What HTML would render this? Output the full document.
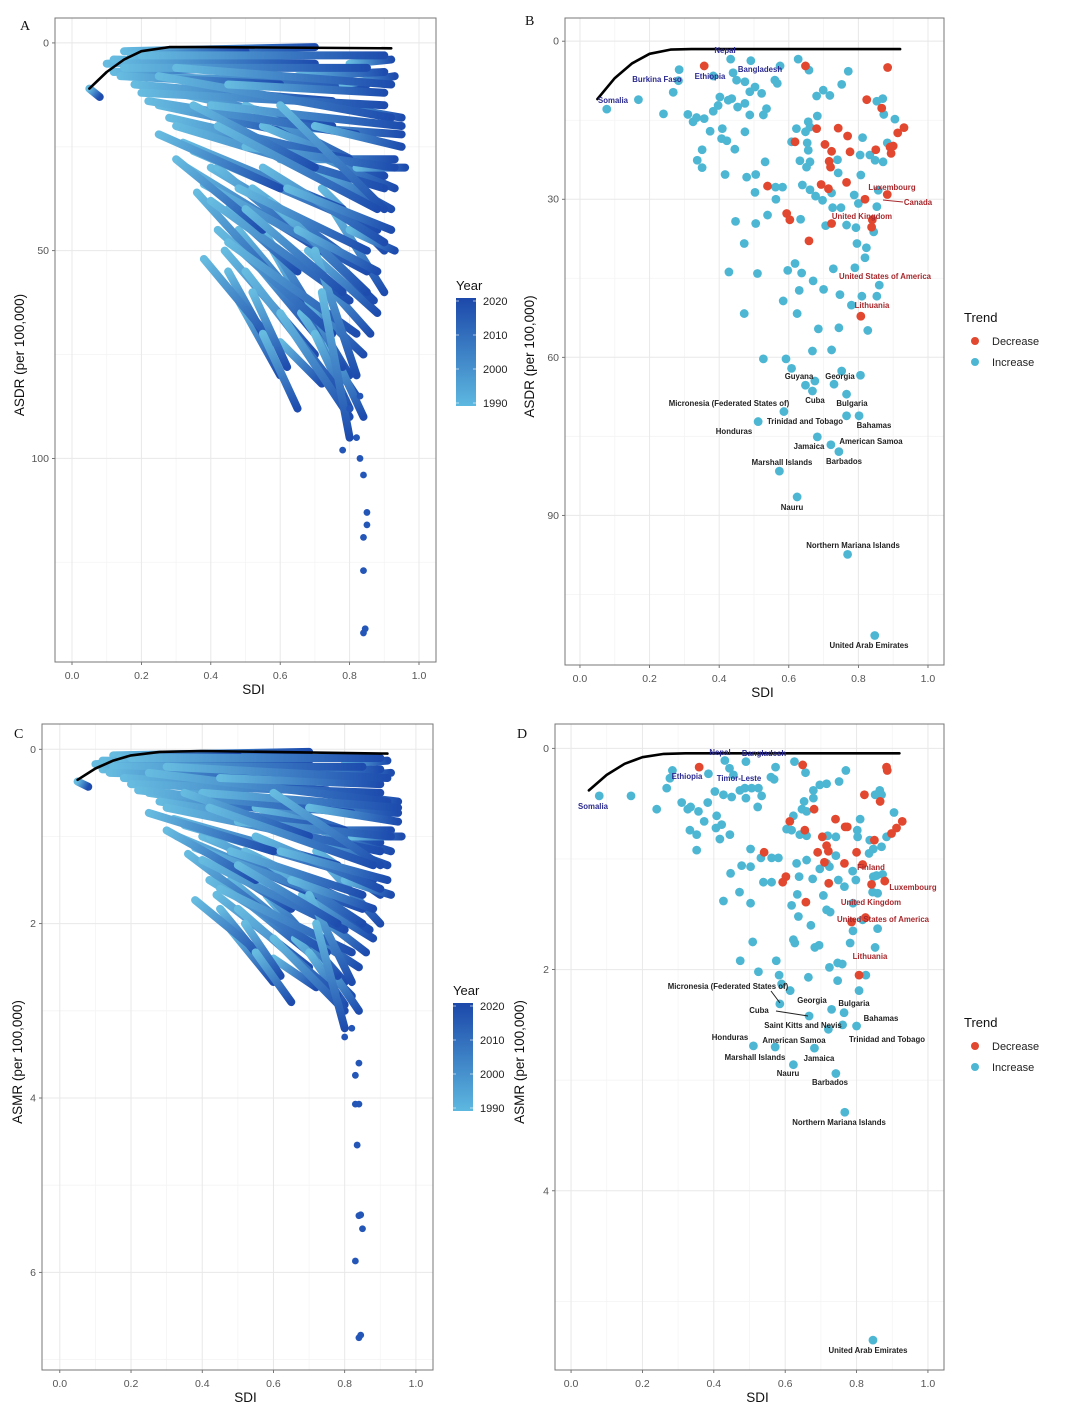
<!DOCTYPE html>
<html><head><meta charset="utf-8">
<style>
html,body{margin:0;padding:0;background:#fff;}
svg{display:block;font-family:"Liberation Sans",Arial,sans-serif;}
</style></head>
<body>
<svg id="fig" width="1080" height="1414" viewBox="0 0 1080 1414" xmlns="http://www.w3.org/2000/svg"><defs id="defs"></defs></svg>
<script>
// ===== Panel A data: SDI/ASDR trajectories 1990->2021 [sdi0, v0, sdi1, v1]
const trajSdiStartA=[0.05,0.1,0.12,0.15,0.14,0.18,0.2,0.22,0.17,0.25,0.28,0.3,0.32,0.35,0.33,0.38,0.36,0.4,0.42,0.44,0.45,0.38,0.5,0.52,0.55,0.6,0.4,0.45,0.5,0.55,0.6,0.65,0.7,0.3,0.25,0.3,0.48,0.6,0.7,0.72,0.35,0.42,0.5,0.2,0.62];
const trajValStartA=[11,5,4,6,8,10,12,14,3,8,18,20,24,26,30,34,36,38,45,50,48,52,55,60,70,65,15,10,25,30,40,45,20,6,22,28,35,15,50,60,15,20,40,3,35];
const trajSdiEndA=[0.08,0.55,0.7,0.85,0.6,0.75,0.9,0.82,0.5,0.92,0.8,0.9,0.78,0.88,0.72,0.85,0.62,0.8,0.75,0.7,0.82,0.58,0.78,0.62,0.65,0.8,0.95,0.9,0.93,0.9,0.85,0.88,0.95,0.92,0.6,0.55,0.85,0.9,0.82,0.8,0.7,0.88,0.78,0.9,0.92];
const trajValEndA=[13,3,5,6,10,14,15,22,2,18,28,35,40,45,50,55,60,62,70,75,70,72,85,78,88,90,20,12,30,48,60,55,25,10,35,45,50,40,80,95,30,40,60,3,45];
const extraSdiStartA=[0.6,0.65,0.7,0.72,0.75,0.68,0.7,0.65,0.62,0.58,0.55,0.5,0.48,0.45,0.4,0.35,0.3,0.25,0.2,0.15,0.12,0.5,0.55,0.6,0.75,0.78,0.8,0.65,0.42,0.52,0.57,0.66,0.7,0.74,0.68,0.6,0.48,0.45,0.8,0.82];
const extraValStartA=[20,25,30,35,40,50,55,60,55,50,45,50,45,40,30,20,12,15,8,2,7,15,20,28,15,10,5,8,30,35,38,65,70,72,62,72,62,55,45,30];
const extraSdiEndA=[0.95,0.93,0.92,0.9,0.9,0.88,0.86,0.84,0.8,0.75,0.72,0.7,0.68,0.65,0.7,0.6,0.75,0.65,0.85,0.7,0.5,0.85,0.9,0.93,0.95,0.93,0.92,0.9,0.68,0.8,0.87,0.82,0.8,0.84,0.78,0.72,0.6,0.55,0.93,0.96];
const extraValEndA=[22,35,40,50,60,65,70,75,80,75,68,70,65,55,45,25,20,22,10,1,6,30,32,28,18,8,4,7,48,52,62,85,88,90,78,82,80,70,50,30];
const tailSdiA=[0.83,0.8,0.82,0.78,0.83,0.84,0.85,0.85,0.84,0.84,0.84,0.845];
const tailValA=[85,88,95,98,100,104,113,116,119,127,142,141];
const frontierSdiA=[0.05,0.1,0.15,0.2,0.28,0.4,0.92];
const frontierValA=[11,7,4,2,1,1,1.3];
// ===== Panel C data: SDI/ASMR trajectories
const trajSdiStartC=[0.05,0.1,0.12,0.15,0.14,0.18,0.2,0.22,0.17,0.25,0.28,0.3,0.32,0.35,0.33,0.38,0.36,0.4,0.42,0.44,0.45,0.38,0.5,0.52,0.55,0.6,0.4,0.45,0.5,0.55,0.6,0.65,0.7,0.3,0.25,0.3,0.48,0.6,0.7,0.72,0.35,0.42,0.5,0.2,0.62];
const trajValStartC=[0.37,0.17,0.13,0.2,0.27,0.33,0.4,0.47,0.1,0.27,0.6,0.67,0.8,0.87,1.0,1.13,1.2,1.27,1.5,1.67,1.6,1.73,1.83,2.0,2.33,2.17,0.5,0.33,0.83,1.0,1.33,1.5,0.67,0.2,0.73,0.93,1.17,0.5,1.67,2.0,0.5,0.67,1.33,0.1,1.17];
const trajSdiEndC=[0.08,0.55,0.7,0.85,0.6,0.75,0.9,0.82,0.5,0.92,0.8,0.9,0.78,0.88,0.72,0.85,0.62,0.8,0.75,0.7,0.82,0.58,0.78,0.62,0.65,0.8,0.95,0.9,0.93,0.9,0.85,0.88,0.95,0.92,0.6,0.55,0.85,0.9,0.82,0.8,0.7,0.88,0.78,0.9,0.92];
const trajValEndC=[0.43,0.1,0.17,0.2,0.33,0.47,0.5,0.73,0.07,0.6,0.93,1.17,1.33,1.5,1.67,1.83,2.0,2.07,2.33,2.5,2.33,2.4,2.83,2.6,2.9,3.0,0.67,0.4,1.0,1.6,2.0,1.83,0.83,0.33,1.17,1.5,1.67,1.33,2.67,3.2,1.0,1.33,2.0,0.1,1.5];
const extraSdiStartC=[0.6,0.65,0.7,0.72,0.75,0.68,0.7,0.65,0.62,0.58,0.55,0.5,0.48,0.45,0.4,0.35,0.3,0.25,0.2,0.15,0.12,0.5,0.55,0.6,0.75,0.78,0.8,0.65,0.42,0.52,0.57,0.66,0.7,0.74,0.68,0.6,0.48,0.45,0.8,0.82];
const extraValStartC=[0.67,0.83,1.0,1.17,1.33,1.67,1.83,2.0,1.83,1.67,1.5,1.67,1.5,1.33,1.0,0.67,0.4,0.5,0.27,0.07,0.23,0.5,0.67,0.93,0.5,0.33,0.17,0.27,1.0,1.17,1.27,2.17,2.33,2.4,2.07,2.4,2.07,1.83,1.5,1.0];
const extraSdiEndC=[0.95,0.93,0.92,0.9,0.9,0.88,0.86,0.84,0.8,0.75,0.72,0.7,0.68,0.65,0.7,0.6,0.75,0.65,0.85,0.7,0.5,0.85,0.9,0.93,0.95,0.93,0.92,0.9,0.68,0.8,0.87,0.82,0.8,0.84,0.78,0.72,0.6,0.55,0.93,0.96];
const extraValEndC=[0.73,1.17,1.33,1.67,2.0,2.17,2.33,2.5,2.67,2.5,2.27,2.33,2.17,1.83,1.5,0.83,0.67,0.73,0.33,0.03,0.2,1.0,1.07,0.93,0.6,0.27,0.13,0.23,1.6,1.73,2.07,2.83,2.93,3.0,2.6,2.73,2.67,2.33,1.67,1.0];
const tailSdiC=[0.8,0.82,0.83,0.84,0.83,0.84,0.835,0.845,0.84,0.85,0.83,0.84,0.845];
const tailValC=[3.3,3.2,3.74,3.6,4.07,4.07,4.54,5.34,5.35,5.5,5.87,6.75,6.72];
const frontierSdiC=[0.05,0.1,0.15,0.2,0.28,0.4,0.92];
const frontierValC=[0.35,0.22,0.13,0.07,0.03,0.02,0.05];
// ===== Panel B data: 2021 ASDR, increase (teal) & decrease (red)
const incSdiB=[0.077,0.168,0.285,0.283,0.268,0.24,0.433,0.491,0.44,0.45,0.474,0.383,0.575,0.627,0.658,0.56,0.567,0.503,0.488,0.522,0.402,0.426,0.436,0.453,0.474,0.383,0.397,0.488,0.527,0.536,0.31,0.325,0.335,0.357,0.374,0.409,0.407,0.422,0.474,0.351,0.337,0.351,0.445,0.417,0.479,0.505,0.532,0.503,0.563,0.562,0.582,0.539,0.447,0.505,0.472,0.634,0.428,0.51,0.597,0.618,0.637,0.67,0.63,0.70,0.728,0.79,0.86,0.853,0.81,0.747,0.584,0.472,0.624,0.78,0.685,0.744,0.827,0.771,0.752,0.68,0.699,0.718,0.682,0.656,0.661,0.622,0.648,0.653,0.656,0.608,0.632,0.661,0.651,0.74,0.742,0.807,0.812,0.805,0.833,0.848,0.871,0.853,0.87,0.873,0.905,0.883,0.639,0.661,0.677,0.697,0.723,0.726,0.75,0.766,0.706,0.793,0.788,0.8,0.857,0.853,0.844,0.796,0.823,0.819,0.527,0.592,0.608,0.668,0.723,0.752,0.806,0.675,0.648,0.668,0.73,0.766,0.766,0.802,0.586,0.512,0.682,0.721,0.744,0.573,0.624,0.769,0.847];
const incValB=[12.9,11.1,5.4,7.5,9.7,13.8,3.4,3.7,6,7.4,7.7,6.6,4.7,3.4,5.5,7.4,8,8.7,9.6,9.9,10.6,11.2,10.9,12.5,11.8,13.3,12.2,14,14,12.8,13.9,15.3,14.5,14.7,17.1,16.6,18.5,18.9,17.2,20.6,22.6,24,20.5,25.3,25.8,25.3,22.9,28.7,30,27.7,27.7,33,34.2,34.6,38.4,33.8,43.8,44.1,43.5,42.2,44,45.5,47.3,47.1,43.2,43,46.3,48.4,48.4,48.1,49.3,51.7,51.7,50.1,54.6,54.4,54.9,5.7,8.2,10.4,9.3,10.3,14.2,15.3,16.3,16.6,17.2,19.3,20.7,19.1,22.7,22.9,23.9,22.5,25,25.4,18.3,21.6,21.6,22.6,22.9,11.4,10.9,13.9,14.8,19.3,27.3,28.2,29.4,30.2,28.8,31.6,31.6,34.9,35,35.4,29.2,30.8,28.3,31.4,36.2,38.4,39.2,41.1,60.3,60.3,62.1,58.8,58.6,62.6,63.4,64.5,65.3,66.4,65.1,67,71.1,71.1,70.3,72.2,75.1,76.6,77.9,81.6,86.5,97.4,112.8];
const decSdiB=[0.357,0.648,0.884,0.824,0.867,0.931,0.913,0.68,0.742,0.769,0.704,0.723,0.776,0.716,0.72,0.85,0.891,0.9,0.894,0.766,0.693,0.714,0.539,0.594,0.603,0.819,0.883,0.658,0.723,0.84,0.838,0.807,0.618];
const decValB=[4.7,4.7,5,11.1,12.7,16.4,17.4,16.6,16.5,18,19.6,20.9,21,22.8,23.9,20.6,20.1,19.9,21.3,26.8,27.2,28,27.5,32.7,33.9,30,29.1,37.9,34.6,33.9,35.3,52.2,19.1];
const frontierSdiB=[0.05,0.1,0.15,0.2,0.26,0.32,0.92];
const frontierValB=[11,7,4.2,2.4,1.6,1.5,1.5];
// ===== Panel D data: 2021 ASMR
const incSdiD=[0.079,0.168,0.24,0.284,0.277,0.268,0.31,0.327,0.335,0.357,0.352,0.333,0.352,0.373,0.408,0.406,0.422,0.417,0.445,0.383,0.403,0.427,0.45,0.473,0.487,0.506,0.525,0.49,0.523,0.534,0.385,0.431,0.444,0.49,0.455,0.56,0.569,0.573,0.626,0.657,0.679,0.697,0.716,0.751,0.77,0.653,0.647,0.66,0.679,0.623,0.618,0.641,0.66,0.604,0.719,0.742,0.803,0.81,0.852,0.865,0.87,0.905,0.802,0.837,0.847,0.87,0.884,0.835,0.503,0.532,0.562,0.581,0.478,0.503,0.447,0.539,0.562,0.632,0.66,0.697,0.716,0.724,0.742,0.639,0.677,0.707,0.749,0.766,0.798,0.789,0.847,0.856,0.873,0.845,0.859,0.472,0.427,0.503,0.634,0.618,0.637,0.672,0.716,0.726,0.79,0.79,0.817,0.859,0.852,0.782,0.695,0.683,0.623,0.627,0.509,0.474,0.575,0.724,0.747,0.76,0.826,0.807,0.525,0.583,0.665,0.747,0.59,0.614,0.585,0.667,0.73,0.765,0.761,0.721,0.8,0.511,0.572,0.682,0.623,0.742,0.767,0.846];
const incValD=[0.43,0.43,0.55,0.2,0.27,0.36,0.49,0.55,0.53,0.57,0.92,0.74,0.78,0.66,0.61,0.72,0.69,0.82,0.78,0.49,0.39,0.42,0.44,0.38,0.36,0.36,0.36,0.45,0.53,0.43,0.23,0.11,0.18,0.12,0.24,0.26,0.28,0.17,0.12,0.22,0.38,0.33,0.32,0.3,0.2,0.48,0.55,0.57,0.45,0.61,0.74,0.78,0.79,0.73,0.79,0.8,0.8,0.64,0.42,0.38,0.42,0.58,0.74,0.83,0.91,0.89,0.8,0.95,0.91,0.99,0.99,0.99,1.06,1.07,1.13,1.21,1.21,1.04,1.01,1.09,1.04,1.07,0.97,1.16,1.18,1.33,1.19,1.25,1.19,1.11,1.16,1.15,1.14,1.3,1.31,1.3,1.38,1.4,1.32,1.42,1.52,1.6,1.46,1.48,1.4,1.65,1.55,1.63,1.8,1.76,1.78,1.8,1.73,1.76,1.75,1.92,1.92,1.98,1.94,1.95,2.05,2.19,2.02,2.05,2.07,2.1,2.13,2.19,2.31,2.42,2.36,2.39,2.5,2.54,2.51,2.69,2.7,2.71,2.86,2.94,3.29,5.35];
const decSdiD=[0.359,0.649,0.884,0.886,0.822,0.866,0.928,0.912,0.898,0.85,0.681,0.613,0.655,0.741,0.768,0.774,0.704,0.716,0.721,0.691,0.71,0.766,0.8,0.817,0.541,0.602,0.593,0.658,0.722,0.842,0.879,0.786,0.825,0.807];
const decValD=[0.17,0.15,0.17,0.2,0.42,0.48,0.66,0.72,0.77,0.83,0.55,0.66,0.74,0.64,0.71,0.71,0.8,0.88,0.93,0.94,1.03,1.04,0.94,1.05,0.94,1.16,1.21,1.39,1.22,1.23,1.2,1.57,1.53,2.05];
const frontierSdiD=[0.05,0.1,0.15,0.2,0.26,0.32,0.92];
const frontierValD=[0.38,0.24,0.14,0.08,0.05,0.045,0.045];

const NS="http://www.w3.org/2000/svg";
const svg=document.getElementById('fig');
const defs=document.getElementById('defs');
function mk(tag,attrs,parent){const e=document.createElementNS(NS,tag);for(const k in attrs)e.setAttribute(k,attrs[k]);(parent||svg).appendChild(e);return e;}
function txt(s,attrs,parent){const e=mk('text',attrs,parent);e.textContent=s;return e;}

const panels={
 A:{x0:55,x1:436,y0:18,y1:662,sx0:-0.049,sx1:1.049,vy0:-6,vy1:149,yt:[0,50,100],ym:[25,75,125],ytl:['0','50','100']},
 B:{x0:565,x1:944,y0:18,y1:665,sx0:-0.043,sx1:1.046,vy0:-4.4,vy1:118.4,yt:[0,30,60,90],ym:[15,45,75,105],ytl:['0','30','60','90']},
 C:{x0:42,x1:433,y0:724,y1:1370,sx0:-0.05,sx1:1.048,vy0:-0.29,vy1:7.12,yt:[0,2,4,6],ym:[1,3,5,7],ytl:['0','2','4','6']},
 D:{x0:555,x1:944,y0:724,y1:1370,sx0:-0.045,sx1:1.045,vy0:-0.22,vy1:5.62,yt:[0,2,4],ym:[1,3,5],ytl:['0','2','4']}
};
function X(p,s){return p.x0+(s-p.sx0)/(p.sx1-p.sx0)*(p.x1-p.x0);}
function Y(p,v){return p.y0+(v-p.vy0)/(p.vy1-p.vy0)*(p.y1-p.y0);}

function frame(key,ytitle,letter,lx,ly){
 const p=panels[key];
 const g=mk('g',{});
 
 
 mk('rect',{x:p.x0,y:p.y0,width:p.x1-p.x0,height:p.y1-p.y0,fill:'#fff'},g);
 const xm=[0.1,0.3,0.5,0.7,0.9], xt=[0,0.2,0.4,0.6,0.8,1.0];
 xm.forEach(s=>mk('line',{x1:X(p,s),x2:X(p,s),y1:p.y0,y2:p.y1,stroke:'#f4f4f4','stroke-width':0.8},g));
 p.ym.forEach(v=>{if(Y(p,v)<p.y1)mk('line',{x1:p.x0,x2:p.x1,y1:Y(p,v),y2:Y(p,v),stroke:'#f4f4f4','stroke-width':0.8},g);});
 xt.forEach(s=>{const l=mk('line',{x1:X(p,s),x2:X(p,s),y1:p.y0,y2:p.y1,stroke:'#e8e8e8','stroke-width':1},g);
  
  mk('line',{x1:X(p,s),x2:X(p,s),y1:p.y1,y2:p.y1+3,stroke:'#555','stroke-width':0.8},g);
  const t=txt(s.toFixed(1),{x:X(p,s),y:p.y1+17,'font-size':10.5,fill:'#555','text-anchor':'middle'},g);
  });
 p.yt.forEach((v,i)=>{mk('line',{x1:p.x0,x2:p.x1,y1:Y(p,v),y2:Y(p,v),stroke:'#e8e8e8','stroke-width':1},g);
  mk('line',{x1:p.x0-3,x2:p.x0,y1:Y(p,v),y2:Y(p,v),stroke:'#555','stroke-width':0.8},g);
  const t=txt(p.ytl[i],{x:p.x0-6,y:Y(p,v)+3.5,'font-size':10.5,fill:'#555','text-anchor':'end'},g);
  });
 const b=mk('rect',{x:p.x0,y:p.y0,width:p.x1-p.x0,height:p.y1-p.y0,fill:'none',stroke:'#777','stroke-width':1},svg);
 
 const xt2=txt('SDI',{x:(p.x0+p.x1)/2+8,y:p.y1+32,'font-size':13.5,fill:'#111','text-anchor':'middle'});
 
 const cy=(p.y0+p.y1)/2+15, cx=p.x0-(key==='C'?20:31);
 const yt=txt(ytitle,{x:cx,y:cy,'font-size':13.5,fill:'#111','text-anchor':'middle',transform:`rotate(-90 ${cx} ${cy})`});
 
 const L=txt(letter,{x:lx,y:ly,'font-size':14,fill:'#111','font-family':'"Liberation Serif",serif'});
 
 return g;
}
function frontier(key,sa,va){
 const p=panels[key];
 let d='';sa.forEach((s,i)=>{d+=(i?'L':'M')+X(p,s).toFixed(1)+','+Y(p,va[i]).toFixed(1);});
 const path=mk('path',{d:d,fill:'none',stroke:'#000','stroke-width':2.6,'stroke-linejoin':'round','stroke-linecap':'round'});
 
}
let gid=0;
function trajLines(p,g,s0,v0,s1,v1){
 s0.forEach((s,i)=>{
  const x1=X(p,s),y1=Y(p,v0[i]),x2=X(p,s1[i]),y2=Y(p,v1[i]);
  const id='gr'+(gid++);
  const lg=mk('linearGradient',{id:id,gradientUnits:'userSpaceOnUse',x1:x1,y1:y1,x2:x2,y2:y2},defs);
  mk('stop',{offset:'0','stop-color':'#66bbe0'},lg);
  mk('stop',{offset:'1','stop-color':'#1d4cae'},lg);
  const l=mk('line',{x1:x1,y1:y1,x2:x2,y2:y2,stroke:`url(#${id})`,'stroke-width':8,'stroke-linecap':'round'},g);
  
  
 });
}
function trajectories(key,s0,v0,s1,v1,e0,ev0,e1,ev1,ts,tv){
 const p=panels[key];
 const g=mk('g',{});
 
 trajLines(p,g,e0,ev0,e1,ev1);
 trajLines(p,g,s0,v0,s1,v1);
 ts.forEach((s,i)=>{
  const c=mk('circle',{cx:X(p,s),cy:Y(p,tv[i]),r:3.4,fill:'#2456b8'},g);
  
  
 });
}
function scatter(key,si,vi,sd,vd){
 const p=panels[key];
 const g=mk('g',{});
 
 si.forEach((s,i)=>{const c=mk('circle',{cx:X(p,s),cy:Y(p,vi[i]),r:4.4,fill:'#4db7d3'},g);
  
  });
 sd.forEach((s,i)=>{const c=mk('circle',{cx:X(p,s),cy:Y(p,vd[i]),r:4.4,fill:'#e2472f'},g);
  
  });
}
function labels(list,color){
 list.forEach(([t,x,y])=>{const e=txt(t,{x:x,y:y+3,'font-size':7.8,'font-weight':'bold',fill:color,'text-anchor':'middle'});
  
  });
}
function colorbar(x,y,h){
 const g=mk('g',{});
 
 txt('Year',{x:x,y:y-8,'font-size':13,fill:'#111'},g);
 const id='cb'+(gid++);
 const lg=mk('linearGradient',{id:id,x1:0,y1:1,x2:0,y2:0},defs);
 mk('stop',{offset:'0','stop-color':'#5db8e0'},lg);mk('stop',{offset:'1','stop-color':'#1c48aa'},lg);
 mk('rect',{x:x,y:y,width:20,height:h,fill:`url(#${id})`},g);
 const yrs=[1990,2000,2010,2020];
 yrs.forEach((yr,i)=>{const yy=y+h-3-(yr-1990)/30*(h-6);
  mk('line',{x1:x,x2:x+3,y1:yy,y2:yy,stroke:'#fff','stroke-width':0.6},g);
  mk('line',{x1:x+17,x2:x+20,y1:yy,y2:yy,stroke:'#fff','stroke-width':0.6},g);
  txt(String(yr),{x:x+27,y:yy+4,'font-size':11,fill:'#222'},g);});
}
function trend(x,y){
 const g=mk('g',{});
 
 txt('Trend',{x:x,y:y,'font-size':13,fill:'#111'},g);
 mk('circle',{cx:x+11,cy:y+19,r:4,fill:'#e2472f'},g);
 txt('Decrease',{x:x+28,y:y+23,'font-size':11,fill:'#222'},g);
 mk('circle',{cx:x+11,cy:y+40,r:4,fill:'#4db7d3'},g);
 txt('Increase',{x:x+28,y:y+44,'font-size':11,fill:'#222'},g);
}

frame('A','ASDR (per 100,000)','A',20,30);
trajectories('A',trajSdiStartA,trajValStartA,trajSdiEndA,trajValEndA,extraSdiStartA,extraValStartA,extraSdiEndA,extraValEndA,tailSdiA,tailValA);
frontier('A',frontierSdiA,frontierValA);
frame('B','ASDR (per 100,000)','B',525,25);
scatter('B',incSdiB,incValB,decSdiB,decValB);
frontier('B',frontierSdiB,frontierValB);
frame('C','ASMR (per 100,000)','C',14,738);
trajectories('C',trajSdiStartC,trajValStartC,trajSdiEndC,trajValEndC,extraSdiStartC,extraValStartC,extraSdiEndC,extraValEndC,tailSdiC,tailValC);
frontier('C',frontierSdiC,frontierValC);
frame('D','ASMR (per 100,000)','D',517,738);
scatter('D',incSdiD,incValD,decSdiD,decValD);
frontier('D',frontierSdiD,frontierValD);

colorbar(456,298,108);
colorbar(453,1003,108);
trend(964,322);
trend(964,1027);

// leader lines
mk('line',{x1:883,y1:200,x2:903,y2:202,stroke:'#a8282c','stroke-width':1});
mk('line',{x1:771,y1:991,x2:780,y2:1003,stroke:'#222','stroke-width':1});
mk('line',{x1:776,y1:1011,x2:808,y2:1016,stroke:'#222','stroke-width':1});

labels([['Nepal',725,50],['Bangladesh',760,69],['Ethiopia',710,76],['Burkina Faso',657,79],['Somalia',613,100],
 ['Nepal',720,752],['Bangladesh',764,753],['Ethiopia',687,776],['Timor-Leste',739,778],['Somalia',593,806]],'#2b2a90');
labels([['Luxembourg',892,187],['Canada',918,202],['United Kingdom',862,216],['United States of America',885,276],['Lithuania',872,305],
 ['Finland',871,867],['Luxembourg',913,887],['United Kingdom',871,902],['United States of America',883,919],['Lithuania',870,956]],'#a8282c');
labels([['Guyana',799,376],['Georgia',840,376],['Cuba',815,400],['Bulgaria',852,403],['Micronesia (Federated States of)',729,403],
 ['Trinidad and Tobago',805,421],['Bahamas',874,425],['Honduras',734,431],['American Samoa',871,441],['Jamaica',809,446],
 ['Marshall Islands',782,462],['Barbados',844,461],['Nauru',792,507],['Northern Mariana Islands',853,545],['United Arab Emirates',869,645],
 ['Micronesia (Federated States of)',728,986],['Georgia',812,1000],['Bulgaria',854,1003],['Cuba',759,1010],['Saint Kitts and Nevis',803,1025],
 ['Bahamas',881,1018],['Honduras',730,1037],['American Samoa',794,1040],['Trinidad and Tobago',887,1039],['Marshall Islands',755,1057],
 ['Jamaica',819,1058],['Nauru',788,1073],['Barbados',830,1082],['Northern Mariana Islands',839,1122],['United Arab Emirates',868,1350]],'#222');
</script>
</body></html>
